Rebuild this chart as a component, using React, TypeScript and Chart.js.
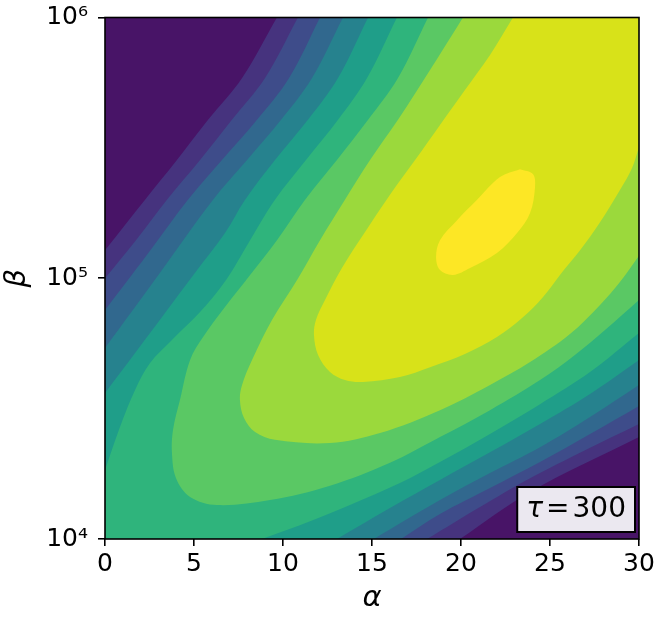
import React, { useEffect, useRef } from 'react';
import { Chart, registerables } from 'chart.js';

Chart.register(...registerables);

type P = [number, number];

// Axis ticks
const ALPHA_TICKS = [0, 5, 10, 15, 20, 25, 30];
const BETA_TICKS = [1e4, 1e5, 1e6];
const BETA_TICK_LABELS = ['10⁴', '10⁵', '10⁶'];
const X_LABEL = 'α';
const Y_LABEL = 'β';
const TAU_SYMBOL = 'τ';
const TAU_EQ = '=';
const TAU_VALUE = '300';

// Filled contour colours, lowest level first
const LEVEL_COLORS = ['#481467', '#46337e', '#3e4c8a', '#31688e', '#26828e', '#1f9e89', '#2fb47c', '#5ac864', '#9bd93c', '#d8e219', '#fde725'];

// Contour lines (alpha, beta). Upper-left branches run from top edge to left edge.
const U1: P[] = [[9.66, 1e6], [7.70, 5.86e5], [5.79, 4.05e5], [4.04, 2.84e5], [2.25, 2.0e5], [0, 1.28e5]];
const U2: P[] = [[10.84, 1e6], [8.99, 5.86e5], [7.13, 4.05e5], [5.34, 2.84e5], [3.48, 2.0e5], [1.74, 1.40e5], [0, 1.0e5]];
const U3: P[] = [[12.08, 1e6], [10.34, 5.86e5], [8.54, 4.05e5], [6.57, 2.84e5], [4.66, 2.0e5], [2.36, 1.23e5], [0, 7.55e4]];
const U4: P[] = [[13.37, 1e6], [11.63, 5.86e5], [9.89, 4.05e5], [7.98, 2.84e5], [6.07, 2.0e5], [3.09, 1.05e5], [0, 5.4e4]];
const U5: P[] = [[14.78, 1e6], [13.09, 5.86e5], [11.40, 4.05e5], [9.55, 2.84e5], [7.87, 2.0e5], [6.74, 1.49e5], [5.06, 1.05e5], [3.37, 7.36e4], [1.69, 5.17e4], [0, 3.63e4]];
const U6: P[] = [[16.40, 1e6], [14.72, 5.86e5], [13.09, 4.05e5], [11.29, 2.84e5], [9.55, 2.0e5], [8.15, 1.40e5], [6.80, 9.85e4], [5.34, 7.42e4], [3.76, 5.80e4], [2.53, 4.73e4], [1.69, 3.73e4], [0.84, 2.69e4], [0, 1.84e4]];

// Lower-right branches run from bottom edge to right edge.
const D1: P[] = [[19.94, 1e4], [23.88, 1.515e4], [30, 2.46e4]];
const D2: P[] = [[18.09, 1e4], [21.07, 1.327e4], [23.88, 1.71e4], [26.97, 2.19e4], [30, 2.76e4]];
const D3: P[] = [[16.63, 1e4], [18.82, 1.247e4], [21.63, 1.569e4], [24.44, 1.974e4], [27.25, 2.53e4], [30, 3.24e4]];
const D4: P[] = [[15.11, 1e4], [18.82, 1.41e4], [21.63, 1.79e4], [24.44, 2.25e4], [27.25, 2.94e4], [30, 3.90e4]];
const D5: P[] = [[13.03, 1e4], [16.01, 1.315e4], [18.82, 1.684e4], [21.63, 2.15e4], [24.44, 2.76e4], [27.25, 3.60e4], [30, 4.86e4]];
const D6: P[] = [[8.82, 1e4], [11.52, 1.17e4], [13.76, 1.35e4], [16.57, 1.64e4], [18.82, 1.974e4], [21.63, 2.53e4], [24.44, 3.29e4], [27.25, 4.37e4], [30, 6.17e4]];

// Single contour lines from top edge round to right edge
const C7: P[] = [[18.15, 1e6], [16.46, 5.86e5], [14.78, 4.05e5], [13.03, 2.84e5], [11.24, 2.0e5], [9.66, 1.40e5], [8.15, 1.03e5], [6.74, 7.76e4], [5.51, 5.95e4], [4.78, 4.86e4], [4.21, 3.41e4], [3.82, 2.62e4], [3.76, 2.14e4], [3.99, 1.71e4], [4.78, 1.45e4], [6.29, 1.35e4], [9.27, 1.41e4], [12.64, 1.60e4], [16.01, 1.96e4], [18.82, 2.46e4], [21.63, 3.12e4], [24.44, 4.07e4], [26.40, 5.08e4], [28.09, 6.33e4], [30, 8.25e4]];
const C8: P[] = [[20.11, 1e6], [18.26, 6.29e5], [16.46, 4.05e5], [14.89, 2.84e5], [13.48, 2.0e5], [12.08, 1.40e5], [10.79, 9.85e4], [9.38, 6.92e4], [8.26, 4.86e4], [7.70, 3.90e4], [7.58, 3.41e4], [7.81, 2.91e4], [8.43, 2.57e4], [9.55, 2.40e4], [12.64, 2.335e4], [15.45, 2.55e4], [18.82, 3.12e4], [21.63, 3.90e4], [23.88, 4.77e4], [26.12, 6.11e4], [27.81, 7.90e4], [28.93, 9.67e4], [30, 1.22e5]];
const C9: P[] = [[22.92, 1e6], [21.63, 7.18e5], [20.22, 5.27e5], [18.82, 3.87e5], [17.42, 2.84e5], [16.01, 2.09e5], [14.61, 1.505e5], [13.31, 1.095e5], [12.36, 8.25e4], [11.85, 6.92e4], [11.74, 6.06e4], [11.97, 5.08e4], [12.64, 4.37e4], [13.48, 4.07e4], [14.49, 4.00e4], [16.57, 4.18e4], [18.26, 4.56e4], [20.22, 5.12e4], [22.02, 5.95e4], [23.43, 7.04e4], [24.61, 8.48e4], [25.56, 1.03e5], [26.69, 1.28e5], [27.81, 1.64e5], [28.93, 2.18e5], [29.61, 2.65e5], [30, 3.19e5]];

// Closed contour around the maximum
const PEAK: P[] = [[23.31, 2.62e5], [24.04, 2.51e5], [24.16, 2.24e5], [23.88, 1.78e5], [23.15, 1.49e5], [22.02, 1.25e5], [20.51, 1.095e5], [19.55, 1.03e5], [18.82, 1.075e5], [18.60, 1.21e5], [18.82, 1.40e5], [19.78, 1.67e5], [20.90, 2.0e5], [22.19, 2.445e5], [23.31, 2.62e5]];

const X_MIN = 0;
const X_MAX = 30;
const Y_MIN = 1e4;
const Y_MAX = 1e6;
const XO_L = X_MIN - 2;
const XO_R = X_MAX + 2;
const YO_B = Y_MIN / 2;
const YO_T = Y_MAX * 2;

// Region above a level: upper branch, lower-left corner, lower branch, upper-right corner.
function bandPolygon(upper: P[], lower: P[]): P[] {
  const u0 = upper[0];
  const uN = upper[upper.length - 1];
  const l0 = lower[0];
  const lN = lower[lower.length - 1];
  return [[u0[0], YO_T], u0, ...upper, uN, [XO_L, uN[1]], [XO_L, YO_B], [l0[0], YO_B], l0, ...lower, lN, [XO_R, lN[1]], [XO_R, YO_T]];
}

function capPolygon(curve: P[]): P[] {
  const c0 = curve[0];
  const cN = curve[curve.length - 1];
  return [[c0[0], YO_T], c0, ...curve, cN, [XO_R, cN[1]], [XO_R, YO_T]];
}

const FONT = "'DejaVu Sans'";

export default function App() {
  const ref = useRef<HTMLCanvasElement | null>(null);

  useEffect(() => {
    if (!ref.current) return;
    const polys: P[][] = [
      bandPolygon(U1, D1),
      bandPolygon(U2, D2),
      bandPolygon(U3, D3),
      bandPolygon(U4, D4),
      bandPolygon(U5, D5),
      bandPolygon(U6, D6),
      capPolygon(C7),
      capPolygon(C8),
      capPolygon(C9),
      PEAK,
    ];
    const datasets = polys.map((poly, i) => ({
      type: 'line' as const,
      data: poly.map(([x, y]) => ({ x, y })),
      fill: 'shape' as const,
      backgroundColor: LEVEL_COLORS[i + 1],
      borderColor: LEVEL_COLORS[i + 1],
      borderWidth: 0,
      pointRadius: 0,
      pointHoverRadius: 0,
      tension: 0.35,
      capBezierPoints: false,
      order: 100 - i,
    }));

    const overlay = {
      id: 'overlay',
      beforeDatasetsDraw(chart: any) {
        const { ctx, chartArea: a } = chart;
        ctx.save();
        ctx.fillStyle = LEVEL_COLORS[0];
        ctx.fillRect(a.left, a.top, a.right - a.left, a.bottom - a.top);
        ctx.restore();
      },
      afterDatasetsDraw(chart: any) {
        const { ctx, chartArea: a } = chart;
        ctx.save();
        const size = 28;
        const gap = 3;
        ctx.font = `italic ${size}px ${FONT}`;
        const w1 = ctx.measureText(TAU_SYMBOL).width;
        ctx.font = `${size}px ${FONT}`;
        const w2 = ctx.measureText(TAU_EQ).width;
        const w3 = ctx.measureText(TAU_VALUE).width;
        const padX = 9;
        const h = 45;
        const bw = w1 + w2 + w3 + 2 * gap + 2 * padX;
        const bx = a.right - 4 - bw;
        const by = a.bottom - 7 - h;
        ctx.fillStyle = '#ebe8f0';
        ctx.fillRect(bx, by, bw, h);
        ctx.lineWidth = 2;
        ctx.strokeStyle = '#000';
        ctx.strokeRect(bx, by, bw, h);
        ctx.fillStyle = '#000';
        ctx.textBaseline = 'alphabetic';
        ctx.textAlign = 'left';
        const base = by + h / 2 + size * 0.27;
        let tx = bx + padX;
        ctx.font = `italic ${size}px ${FONT}`;
        ctx.fillText(TAU_SYMBOL, tx, base);
        tx += w1 + gap;
        ctx.font = `${size}px ${FONT}`;
        ctx.fillText(TAU_EQ, tx, base);
        tx += w2 + gap;
        ctx.fillText(TAU_VALUE, tx, base);
        ctx.lineWidth = 1.6;
        ctx.strokeRect(a.left, a.top, a.right - a.left, a.bottom - a.top);
        ctx.restore();
      },
    };

    const gridOpts = {
      display: true,
      drawOnChartArea: false,
      drawTicks: true,
      tickLength: 7,
      color: '#000',
      lineWidth: 1.6,
    };

    const chart = new Chart(ref.current, {
      type: 'line',
      data: { datasets: datasets as any },
      plugins: [overlay],
      options: {
        animation: false,
        responsive: false,
        devicePixelRatio: 1,
        events: [],
        layout: { padding: { left: 0, right: 26, top: 17.5, bottom: 0 } },
        plugins: {
          legend: { display: false },
          tooltip: { enabled: false },
          title: { display: false },
        },
        scales: {
          x: {
            type: 'linear',
            min: X_MIN,
            max: X_MAX,
            position: 'bottom',
            afterBuildTicks: (s: any) => {
              s.ticks = ALPHA_TICKS.map((v) => ({ value: v }));
            },
            afterFit: (s: any) => {
              s.height = 81;
              s.paddingLeft = 0;
              s.paddingRight = 0;
            },
            ticks: {
              color: '#000',
              font: { family: FONT, size: 25 },
              padding: 3,
              maxRotation: 0,
              autoSkip: false,
              callback: (v: any) => String(v),
            },
            grid: gridOpts,
            border: { display: false },
            title: {
              display: true,
              text: X_LABEL,
              color: '#000',
              font: { family: FONT, size: 29, style: 'italic' },
              padding: { top: 0, bottom: 4 },
            },
          },
          y: {
            type: 'logarithmic',
            min: Y_MIN,
            max: Y_MAX,
            position: 'left',
            afterBuildTicks: (s: any) => {
              s.ticks = BETA_TICKS.map((v) => ({ value: v }));
            },
            afterFit: (s: any) => {
              s.width = 105;
              s.paddingTop = 0;
              s.paddingBottom = 0;
            },
            ticks: {
              color: '#000',
              font: { family: FONT, size: 25 },
              padding: 10,
              autoSkip: false,
              callback: (v: any) => {
                const i = BETA_TICKS.indexOf(Number(v));
                return i >= 0 ? BETA_TICK_LABELS[i] : '';
              },
            },
            grid: gridOpts,
            border: { display: false },
            title: {
              display: true,
              text: Y_LABEL,
              color: '#000',
              font: { family: FONT, size: 29, style: 'italic' },
              padding: { top: 0, bottom: 0 },
            },
          },
        },
      } as any,
    });
    return () => chart.destroy();
  }, []);

  return (
    <div style={{ position: 'fixed', left: 0, top: 0, width: 665, height: 620, background: '#fff' }}>
      <canvas ref={ref} width={665} height={620} style={{ width: 665, height: 620, display: 'block' }} />
    </div>
  );
}
